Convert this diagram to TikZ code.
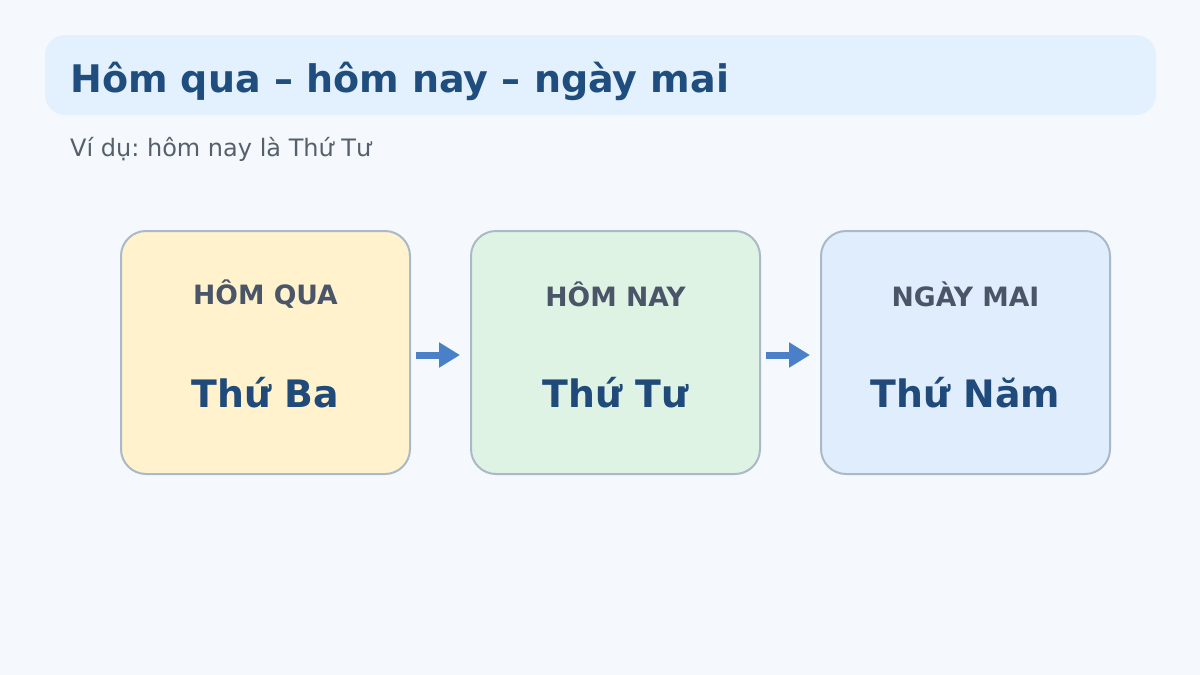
\documentclass[tikz,border=0pt]{standalone}
\usepackage{fontspec}
\setmainfont{DejaVu Sans}
\usetikzlibrary{arrows.meta}
\frenchspacing
\definecolor{bg}{HTML}{F5F9FE}
\definecolor{titlefill}{HTML}{E3F0FE}
\definecolor{titletext}{HTML}{1F4E7E}
\definecolor{subtext}{HTML}{56606C}
\definecolor{boxline}{HTML}{A9B9C9}
\definecolor{fillA}{HTML}{FFF2CC}
\definecolor{fillB}{HTML}{DFF3E4}
\definecolor{fillC}{HTML}{E0EDFD}
\definecolor{labtext}{HTML}{4A5568}
\definecolor{bigtext}{HTML}{1F4A7A}
\definecolor{arrowc}{HTML}{4A80C8}
\tikzset{
  daybox/.style={draw=boxline, line width=2pt, rounded corners=25pt, minimum width=289pt, minimum height=243pt, inner sep=0pt},
  smalllab/.style={font=\bfseries\fontsize{26.6}{26.6}\selectfont, text=labtext, anchor=base},
  biglab/.style={font=\bfseries\fontsize{37.8}{37.8}\selectfont, text=bigtext, anchor=base},
  arr/.style={draw=arrowc, line width=7pt, -{Triangle[length=21pt,width=24pt]}, shorten <=5pt, shorten >=10pt}
}
\begin{document}
\begin{tikzpicture}[x=1pt,y=-1pt]
\fill[bg] (0,0) rectangle (1200,675);
\useasboundingbox (0,0) rectangle (1200,675);
\node[fill=titlefill, rounded corners=20pt, minimum width=1111pt, minimum height=80pt, inner sep=0pt] (titlebar) at (600.5,75) {};
\node[anchor=base west, inner sep=0pt, font=\bfseries\fontsize{38}{38}\selectfont, text=titletext] (title) at (70,92) {Hôm qua – hôm nay – ngày mai};
\node[anchor=base west, inner sep=0pt, font=\fontsize{24}{24}\selectfont, text=subtext] (sub) at (70,156) {Ví dụ: hôm nay là Thứ Tư};
\node[daybox, fill=fillA] (b1) at (265.5,352.5) {};
\node[daybox, fill=fillB] (b2) at (615.5,352.5) {};
\node[daybox, fill=fillC] (b3) at (965.5,352.5) {};
\node[smalllab, inner sep=0pt] (l1) at (265.5,304) {HÔM QUA};
\node[smalllab, inner sep=0pt] (l2) at (615.5,306) {HÔM NAY};
\node[smalllab, inner sep=0pt] (l3) at (965.5,306) {NGÀY MAI};
\node[biglab, inner sep=0pt] (d1) at (265.5,407) {Thứ Ba};
\node[biglab, inner sep=0pt] (d2) at (615.5,407) {Thứ Tư};
\node[biglab, inner sep=0pt] (d3) at (965.5,407) {Thứ Năm};
\draw[arr] ([yshift=-2.5pt]b1.east) -- ([yshift=-2.5pt]b2.west);
\draw[arr] ([yshift=-2.5pt]b2.east) -- ([yshift=-2.5pt]b3.west);
\end{tikzpicture}
\end{document}
